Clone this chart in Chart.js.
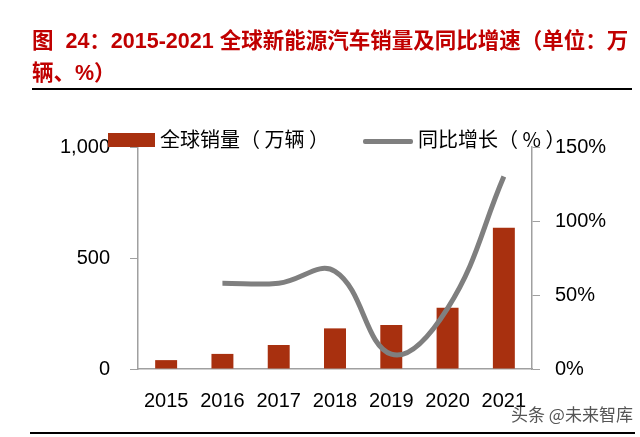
<!DOCTYPE html>
<html>
<head>
<meta charset="utf-8">
<script src="https://cdn.jsdelivr.net/npm/chart.js@4.4.1/dist/chart.umd.min.js"></script>
<style>
  body { margin: 0; background: #fff; }
  #wrap { position: relative; width: 640px; height: 437px; overflow: hidden; font-family: "Liberation Sans", "Noto Sans CJK SC", sans-serif; }
  #myChart { position: absolute; left: 0; top: 0; }
  .title { position: absolute; left: 32px; color: #c00000; font-weight: bold; font-size: 21.5px; white-space: nowrap; line-height: 24px; }
  .rule { position: absolute; background: #000; }
  .lg { position: absolute; font-size: 20px; line-height: 24px; color: #000; white-space: nowrap; font-family: "Noto Sans CJK SC", sans-serif; }
  .wm { position: absolute; left: 511px; top: 404px; font-size: 17px; line-height: 20px; color: #555; font-family: "Noto Sans CJK SC", sans-serif; }
</style>
</head>
<body>
<div id="wrap">
  <canvas id="myChart" width="640" height="437"></canvas>
  <div class="title" style="top:29px">图&nbsp; 24：2015-2021 全球新能源汽车销量及同比增速（单位：万</div>
  <div class="title" style="top:61px">辆、%）</div>
  <div class="rule" style="left:32px; top:88px; width:600px; height:2px"></div>

  <div style="position:absolute; left:108px; top:133px; width:47px; height:14px; background:#a8300f"></div>
  <div class="lg" style="left:160px; top:127px">全球销量（ 万辆 ）</div>
  <div style="position:absolute; left:363px; top:139px; width:50px; height:5px; background:#7f7f7f; border-radius:2px"></div>
  <div class="lg" style="left:418px; top:127px">同比增长（ % ）</div>

  <div class="wm">头条 @未来智库</div>
  <div class="rule" style="left:30px; top:432px; width:605px; height:2px"></div>
</div>
<script>
var years = ['2015', '2016', '2017', '2018', '2019', '2020', '2021'];
var sales = [40, 68, 108, 183, 198, 276, 636];
var growth = [null, 58, 58, 66, 10, 41, 130];
var leftTicks = [0, 500, 1000];
var rightTicks = [0, 50, 100, 150];

var ctx = document.getElementById('myChart').getContext('2d');
var myChart = new Chart(ctx, {
  type: 'bar',
  data: {
    labels: years,
    datasets: [{
      type: 'line',
      label: '同比增长（%）',
      data: growth,
      yAxisID: 'y1',
      borderColor: '#7f7f7f',
      borderWidth: 5,
      pointRadius: 0,
      tension: 0.4,
      fill: false,
      order: 0
    }, {
      label: '全球销量（万辆）',
      data: sales,
      yAxisID: 'y',
      backgroundColor: '#a8300f',
      barPercentage: 0.39,
      categoryPercentage: 1,
      order: 1
    }]
  },
  options: {
    responsive: false,
    animation: false,
    layout: { padding: { top: 147, left: 0, right: 0, bottom: 0 } },
    plugins: { legend: { display: false }, tooltip: { enabled: false } },
    scales: {
      x: {
        grid: { drawOnChartArea: false, drawTicks: false },
        border: { color: '#a0a0a0', width: 1.5 },
        ticks: { color: '#000', font: { family: 'Liberation Sans', size: 20 }, padding: 20, maxRotation: 0 },
        afterFit: function (scale) { scale.height = 68; }
      },
      y: {
        position: 'left',
        min: 0,
        max: 1000,
        afterBuildTicks: function (scale) { scale.ticks = leftTicks.map(function (v) { return { value: v }; }); },
        grid: { drawOnChartArea: false, tickLength: 8, color: '#a0a0a0' },
        border: { color: '#a0a0a0', width: 1.5 },
        ticks: { color: '#000', font: { family: 'Liberation Sans', size: 20 }, padding: 20 },
        afterFit: function (scale) { scale.width = 138; }
      },
      y1: {
        position: 'right',
        min: 0,
        max: 150,
        afterBuildTicks: function (scale) { scale.ticks = rightTicks.map(function (v) { return { value: v }; }); },
        grid: { drawOnChartArea: false, tickLength: 8, color: '#a0a0a0' },
        border: { color: '#a0a0a0', width: 1.5 },
        ticks: {
          color: '#000', font: { family: 'Liberation Sans', size: 20 }, padding: 15,
          callback: function (v) { return v + '%'; }
        },
        afterFit: function (scale) { scale.width = 108; }
      }
    }
  }
});
</script>
</body>
</html>
